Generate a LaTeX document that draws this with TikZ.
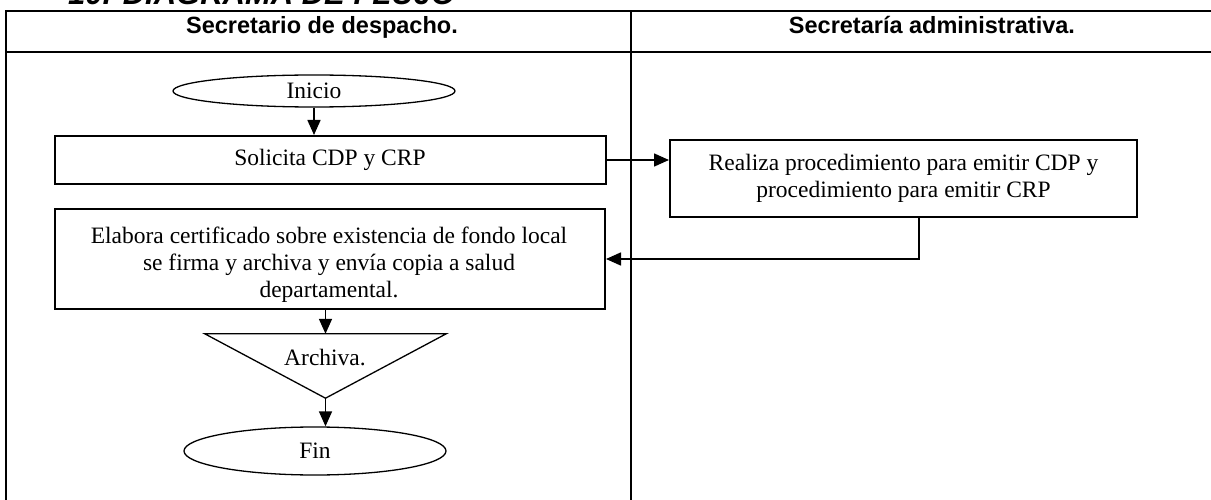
\documentclass[tikz,border=0pt]{standalone}
\usepackage{fontspec}
\setmainfont{Liberation Serif}
\setsansfont{Liberation Sans}
\usetikzlibrary{arrows.meta,calc,shapes.geometric}
\newcommand\flowfont{\fontsize{23.5}{27}\selectfont}
\tikzset{
  term/.style={ellipse,draw,line width=1.3pt,inner sep=0pt,font=\flowfont},
  proc/.style={rectangle,draw,line width=2pt,inner sep=0pt,align=center,font=\flowfont},
  lane/.style={line width=2pt},
  hdr/.style={anchor=base,inner sep=0pt,font=\sffamily\bfseries\fontsize{23.5}{27}\selectfont},
  flow/.style={-{Triangle[length=15pt,width=13pt]},line width=1.6pt},
}

\begin{document}
\begin{tikzpicture}[x=1pt,y=-1pt]
  \useasboundingbox (0,0) rectangle (1211,500);
  \clip (0,0) rectangle (1211,500);
  % title, cut by the page top
  \node[anchor=base west,inner sep=0pt,font=\sffamily\bfseries\itshape\fontsize{31}{36}\selectfont]
    (title) at (68,5) {10. DIAGRAMA DE FLUJO};
  % swimlanes
  \draw[lane] (6,11) rectangle (1235,520);
  \draw[lane] (6,52) -- (1235,52);
  \draw[lane] (631,11) -- (631,520);
  \node[hdr] (lane1) at (322,34) {Secretario de despacho.};
  \node[hdr] (lane2) at (932,34) {Secretaría administrativa.};
  % steps
  \node[term,minimum width=282pt,minimum height=32pt] (ini) at (314,91) {Inicio};
  \node[proc,minimum width=551pt,minimum height=48pt] (sol) at (330,160) {Solicita CDP y CRP};
  \node[proc,minimum width=467pt,minimum height=77pt] (real) at (903.5,178.5)
    {Realiza procedimiento para emitir CDP y\\procedimiento para emitir CRP};
  \node[proc,minimum width=550pt,minimum height=100pt] (elab) at (330,259) {};
  \node[font=\flowfont,align=center,inner sep=0pt] (elabtxt) at (329,265)
    {Elabora certificado sobre existencia de fondo local\\se firma y archiva y envía copia a salud\\departamental.};
  \node[minimum width=241pt,minimum height=64pt,inner sep=0pt] (arch) at (325.5,366) {};
  \draw[line width=1.3pt] (arch.north west) -- (arch.north east) -- (arch.south) -- cycle;
  \node[font=\flowfont,inner sep=0pt] (archtxt) at (325,358) {Archiva.};
  \node[term,minimum width=262pt,minimum height=48pt] (fin) at (315,451) {Fin};
  % connectors
  \draw[flow] (ini) -- (ini |- sol.north);
  \draw[flow] (sol.east) -- (sol.east -| real.west);
  \draw[flow] ($(real.south)+(15.5,0)$) |- (elab.east);
  \draw[flow] (arch.north |- elab.south) -- (arch.north);
  \draw[flow] (arch.south) -- (arch.south |- fin.north);
\end{tikzpicture}
\end{document}
